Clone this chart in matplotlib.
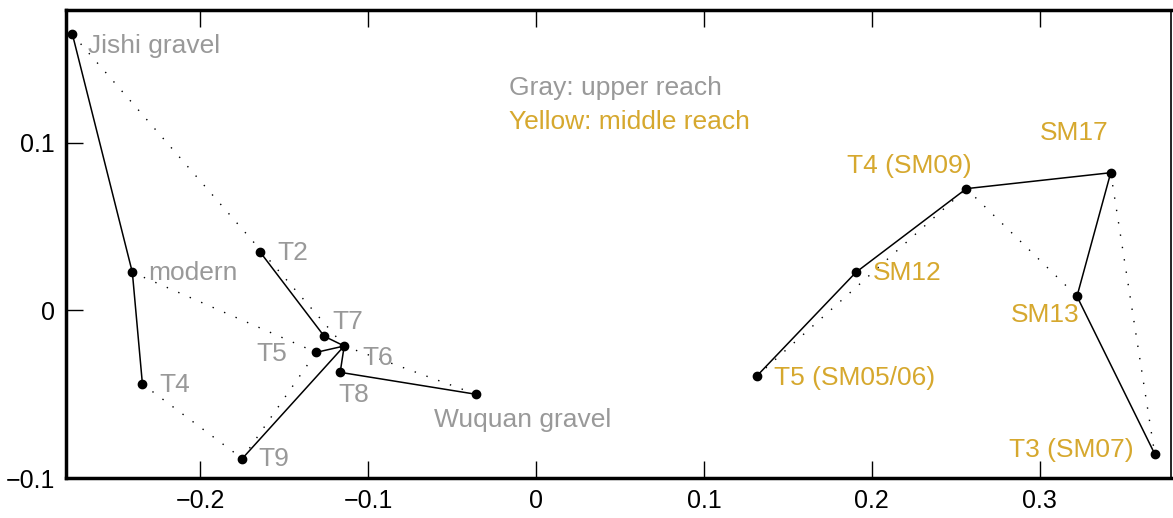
import matplotlib
matplotlib.use("Agg")
import matplotlib.pyplot as plt

plt.rcParams['font.family'] = ['Liberation Sans', 'DejaVu Sans']

# sample names, coordinates and reach group
names = ["Jishi gravel", "modern", "T4", "T9", "T2", "T7", "T5", "T6", "T8", "Wuquan gravel",
         "T5 (SM05/06)", "SM12", "T4 (SM09)", "SM17", "SM13", "T3 (SM07)"]
xs = [-0.2762, -0.2405, -0.2345, -0.1750, -0.1643, -0.1262, -0.1310, -0.1143, -0.1167, -0.0357,
      0.1313, 0.1905, 0.2563, 0.3423, 0.3222, 0.3685]
ys = [0.1645, 0.0226, -0.0440, -0.0884, 0.0346, -0.0155, -0.0251, -0.0213, -0.0370, -0.0501,
      -0.0394, 0.0226, 0.0725, 0.0820, 0.0083, -0.0856]
groups = ["upper"] * 10 + ["middle"] * 6

# tree edges (solid) and secondary links (dotted), as index pairs
solid_edges = [(0, 1), (1, 2), (4, 5), (5, 7), (6, 7), (7, 8), (7, 3), (8, 9),
               (10, 11), (11, 12), (12, 13), (13, 14), (14, 15)]
dotted_edges = [(0, 7), (1, 6), (2, 3), (3, 6), (7, 9),
                (10, 12), (12, 14), (13, 15)]

# label placement (offset pixels, alignment) - style only
label_style = {
    "Jishi gravel": (16, -12, "left"),
    "modern": (16, -1, "left"),
    "T4": (17, -1, "left"),
    "T9": (16, 0, "left"),
    "T2": (17, -1, "left"),
    "T7": (8, 14, "left"),
    "T5": (-29, -2, "right"),
    "T6": (18, -12, "left"),
    "T8": (-2, -23, "left"),
    "Wuquan gravel": (-42, -26, "left"),
    "T5 (SM05/06)": (17, -2, "left"),
    "SM12": (17, -1, "left"),
    "T4 (SM09)": (5, 23, "right"),
    "SM17": (-2, 40, "right"),
    "SM13": (2, -19, "right"),
    "T3 (SM07)": (-21, 4, "right"),
}

colors = {"upper": "#999999", "middle": "#D6A82E"}

fig = plt.figure(figsize=(11.73, 5.18), dpi=100)
ax = fig.add_axes([0.0563, 0.0772, 0.998 - 0.0563, 0.9807 - 0.0772])

for i, j in dotted_edges:
    ax.plot([xs[i], xs[j]], [ys[i], ys[j]], color="black", lw=1.0,
            linestyle=(0, (1, 8)), zorder=1)
for i, j in solid_edges:
    ax.plot([xs[i], xs[j]], [ys[i], ys[j]], color="black", lw=1.1, zorder=2)

ax.plot(xs, ys, "o", color="black", markersize=6, zorder=3)

for n, x, y, g in zip(names, xs, ys, groups):
    dx, dy, ha = label_style[n]
    ax.annotate(n, (x, y), xytext=(dx, dy), textcoords="offset pixels",
                ha=ha, va="center", color=colors[g], fontsize=19)

ax.text(-0.0163, 0.1324, "Gray: upper reach", color=colors["upper"], fontsize=19,
        ha="left", va="center")
ax.text(-0.0163, 0.1124, "Yellow: middle reach", color=colors["middle"], fontsize=19,
        ha="left", va="center")

ax.set_xlim(-0.28, 0.378)
ax.set_ylim(-0.1, 0.179)
ax.set_xticks([-0.2, -0.1, 0, 0.1, 0.2, 0.3])
ax.set_xticklabels(["\u22120.2", "\u22120.1", "0", "0.1", "0.2", "0.3"])
ax.set_yticks([-0.1, 0, 0.1])
ax.set_yticklabels(["\u22120.1", "0", "0.1"])
ax.tick_params(direction="in", length=12, width=1.0, labelsize=18, top=True, right=False,
               pad=8)
for s in ["left", "bottom", "top"]:
    ax.spines[s].set_linewidth(2.5)
ax.spines["right"].set_linewidth(1.2)

fig.savefig("out.png", dpi=100)
